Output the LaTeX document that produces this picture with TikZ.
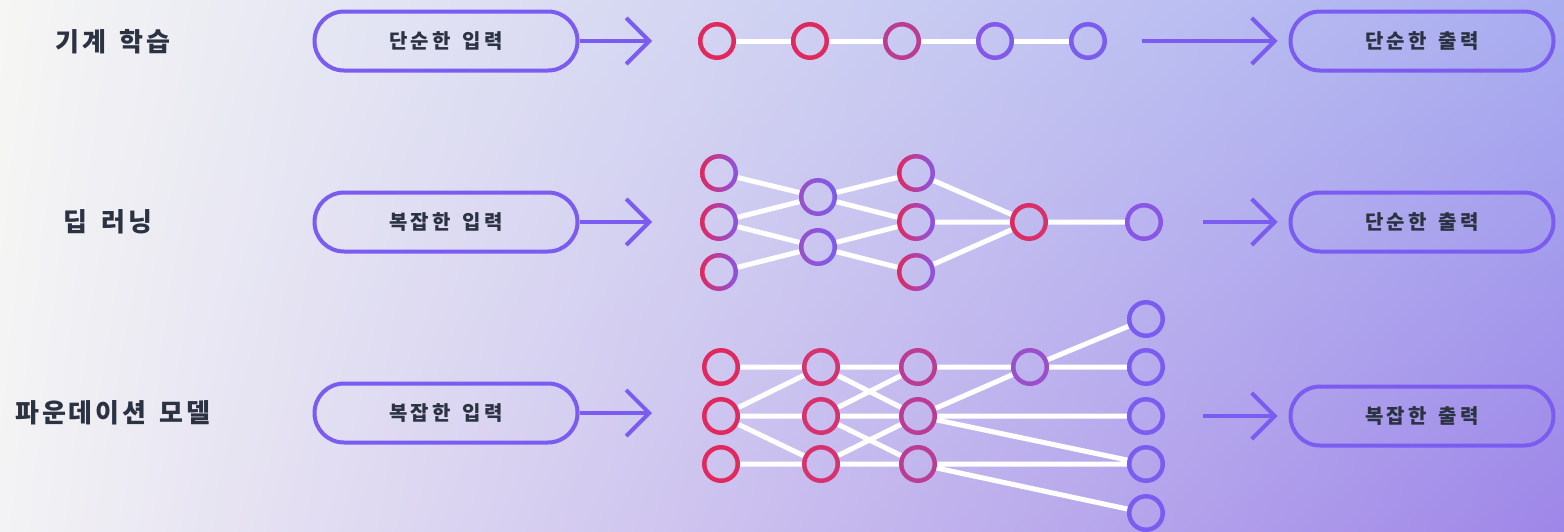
\documentclass[tikz,border=0pt]{standalone}
\usepackage{fontspec}
\setmainfont{Noto Sans CJK KR}
\newfontfamily\titlefont{Noto Sans CJK KR}[LetterSpace=10,WordSpace=1.6]
\newfontfamily\pillfont{Noto Sans CJK KR}[LetterSpace=16,WordSpace=1.5]
\usetikzlibrary{arrows.meta,shadings}

\definecolor{txt}{HTML}{2B3242}
\definecolor{vio}{HTML}{7B5CF0}
\definecolor{rd}{HTML}{E0295E}
\definecolor{pk}{HTML}{D6336E}
\definecolor{mg}{HTML}{BC3C94}
\definecolor{pu}{HTML}{9A50C8}
\definecolor{lv}{HTML}{8A56E6}
\definecolor{bgul}{HTML}{F6F6F4}
\definecolor{bgll}{HTML}{F3F3F4}
\definecolor{bgur}{HTML}{A8ADF0}
\definecolor{bglr}{HTML}{9E86E8}

\tikzset{
  title/.style={text=txt, font=\titlefont\bfseries\fontsize{26}{30}\selectfont},
  pill/.style={draw=vio, line width=4pt, rounded corners=29.5pt, minimum width=263pt,
    minimum height=59pt, text=txt, font=\pillfont\bfseries\fontsize{20}{24}\selectfont},
  neuron/.style 2 args={circle, minimum size=38pt, inner sep=0pt,
    path picture={\shade[left color=#1, right color=#2, even odd rule]
      (path picture bounding box.center) circle (19pt) circle (14.5pt);}},
  link/.style={white, line width=5pt},
  flow/.style={vio, line width=4pt, -{Straight Barb[length=23pt, width=46pt]}}
}

\begin{document}
\begin{tikzpicture}[x=1pt, y=1pt]
\useasboundingbox (0,0) rectangle (1564,-531);
\shade[upper left=bgul, upper right=bgur, lower left=bgll, lower right=bglr]
  (0,0) rectangle (1564,-531);

% row labels
\node[title] (t1) at (113,-42) {기계 학습};
\node[title] (t2) at (108,-222) {딥 러닝};
\node[title] (t3) at (113,-413) {파운데이션 모델};

% inputs and outputs
\node[pill] (in1) at (446,-41) {단순한 입력};
\node[pill] (in2) at (446,-222) {복잡한 입력};
\node[pill] (in3) at (446,-413) {복잡한 입력};
\node[pill] (out1) at (1422,-41) {단순한 출력};
\node[pill] (out2) at (1422,-222) {단순한 출력};
\node[pill] (out3) at (1422,-416) {복잡한 출력};

\coordinate (a1) at (652,-41);
\coordinate (a2) at (652,-222);
\coordinate (a3) at (652,-413);
\coordinate (b1) at (1142,-41);
\coordinate (b2) at (1203,-222);
\coordinate (b3) at (1203,-416);
\draw[flow] (in1.east) -- (a1);
\draw[flow] (in2.east) -- (a2);
\draw[flow] (in3.east) -- (a3);
\draw[flow, shorten >=11pt] (b1) -- (out1.west);
\draw[flow, shorten >=11pt] (b2) -- (out2.west);
\draw[flow, shorten >=11pt] (b3) -- (out3.west);

% machine learning: a chain
\node[neuron={rd}{rd}] (m1) at (717,-41) {};
\node[neuron={rd}{rd}] (m2) at (810,-41) {};
\node[neuron={mg}{mg}] (m3) at (902,-41) {};
\node[neuron={lv}{vio}] (m4) at (995,-41) {};
\node[neuron={vio}{vio}] (m5) at (1088,-41) {};
\draw[link] (m1) -- (m2) (m2) -- (m3) (m3) -- (m4) (m4) -- (m5);

% deep learning
\node[neuron={rd}{lv}] (d11) at (719,-173) {};
\node[neuron={rd}{lv}] (d12) at (719,-222) {};
\node[neuron={rd}{lv}] (d13) at (719,-272) {};
\node[neuron={pu}{vio}] (d21) at (818,-197) {};
\node[neuron={pu}{vio}] (d22) at (818,-247) {};
\node[neuron={rd}{lv}] (d31) at (916,-173) {};
\node[neuron={rd}{lv}] (d32) at (916,-222) {};
\node[neuron={rd}{lv}] (d33) at (916,-272) {};
\node[neuron={rd}{pk}] (d41) at (1029,-222) {};
\node[neuron={lv}{lv}] (d51) at (1144,-222) {};
\draw[link] (d11) -- (d21) (d12) -- (d21) (d12) -- (d22) (d13) -- (d22);
\draw[link] (d21) -- (d31) (d21) -- (d32) (d22) -- (d32) (d22) -- (d33);
\draw[link] (d31) -- (d41) (d32) -- (d41) (d33) -- (d41) (d41) -- (d51);

% foundation model
\node[neuron={rd}{rd}] (f11) at (721,-367) {};
\node[neuron={rd}{rd}] (f12) at (721,-416) {};
\node[neuron={rd}{rd}] (f13) at (721,-464) {};
\node[neuron={pk}{pk}] (f21) at (821,-367) {};
\node[neuron={pk}{pk}] (f22) at (821,-416) {};
\node[neuron={pk}{pk}] (f23) at (821,-464) {};
\node[neuron={mg}{mg}] (f31) at (918,-367) {};
\node[neuron={mg}{mg}] (f32) at (918,-416) {};
\node[neuron={mg}{mg}] (f33) at (918,-464) {};
\node[neuron={pu}{pu}] (f41) at (1030,-367) {};
\node[neuron={vio}{vio}] (f51) at (1146,-319) {};
\node[neuron={vio}{vio}] (f52) at (1146,-367) {};
\node[neuron={vio}{vio}] (f53) at (1146,-416) {};
\node[neuron={vio}{vio}] (f54) at (1146,-464) {};
\node[neuron={vio}{vio}] (f55) at (1146,-513) {};
\draw[link] (f11) -- (f21) (f12) -- (f21) (f12) -- (f22) (f12) -- (f23) (f13) -- (f23);
\draw[link] (f21) -- (f31) (f21) -- (f32) (f22) -- (f31) (f22) -- (f32) (f22) -- (f33)
  (f23) -- (f32) (f23) -- (f33);
\draw[link] (f31) -- (f41) (f32) -- (f41) (f32) -- (f53) (f32) -- (f54)
  (f33) -- (f54) (f33) -- (f55);
\draw[link] (f41) -- (f51) (f41) -- (f52);
\end{tikzpicture}
\end{document}
